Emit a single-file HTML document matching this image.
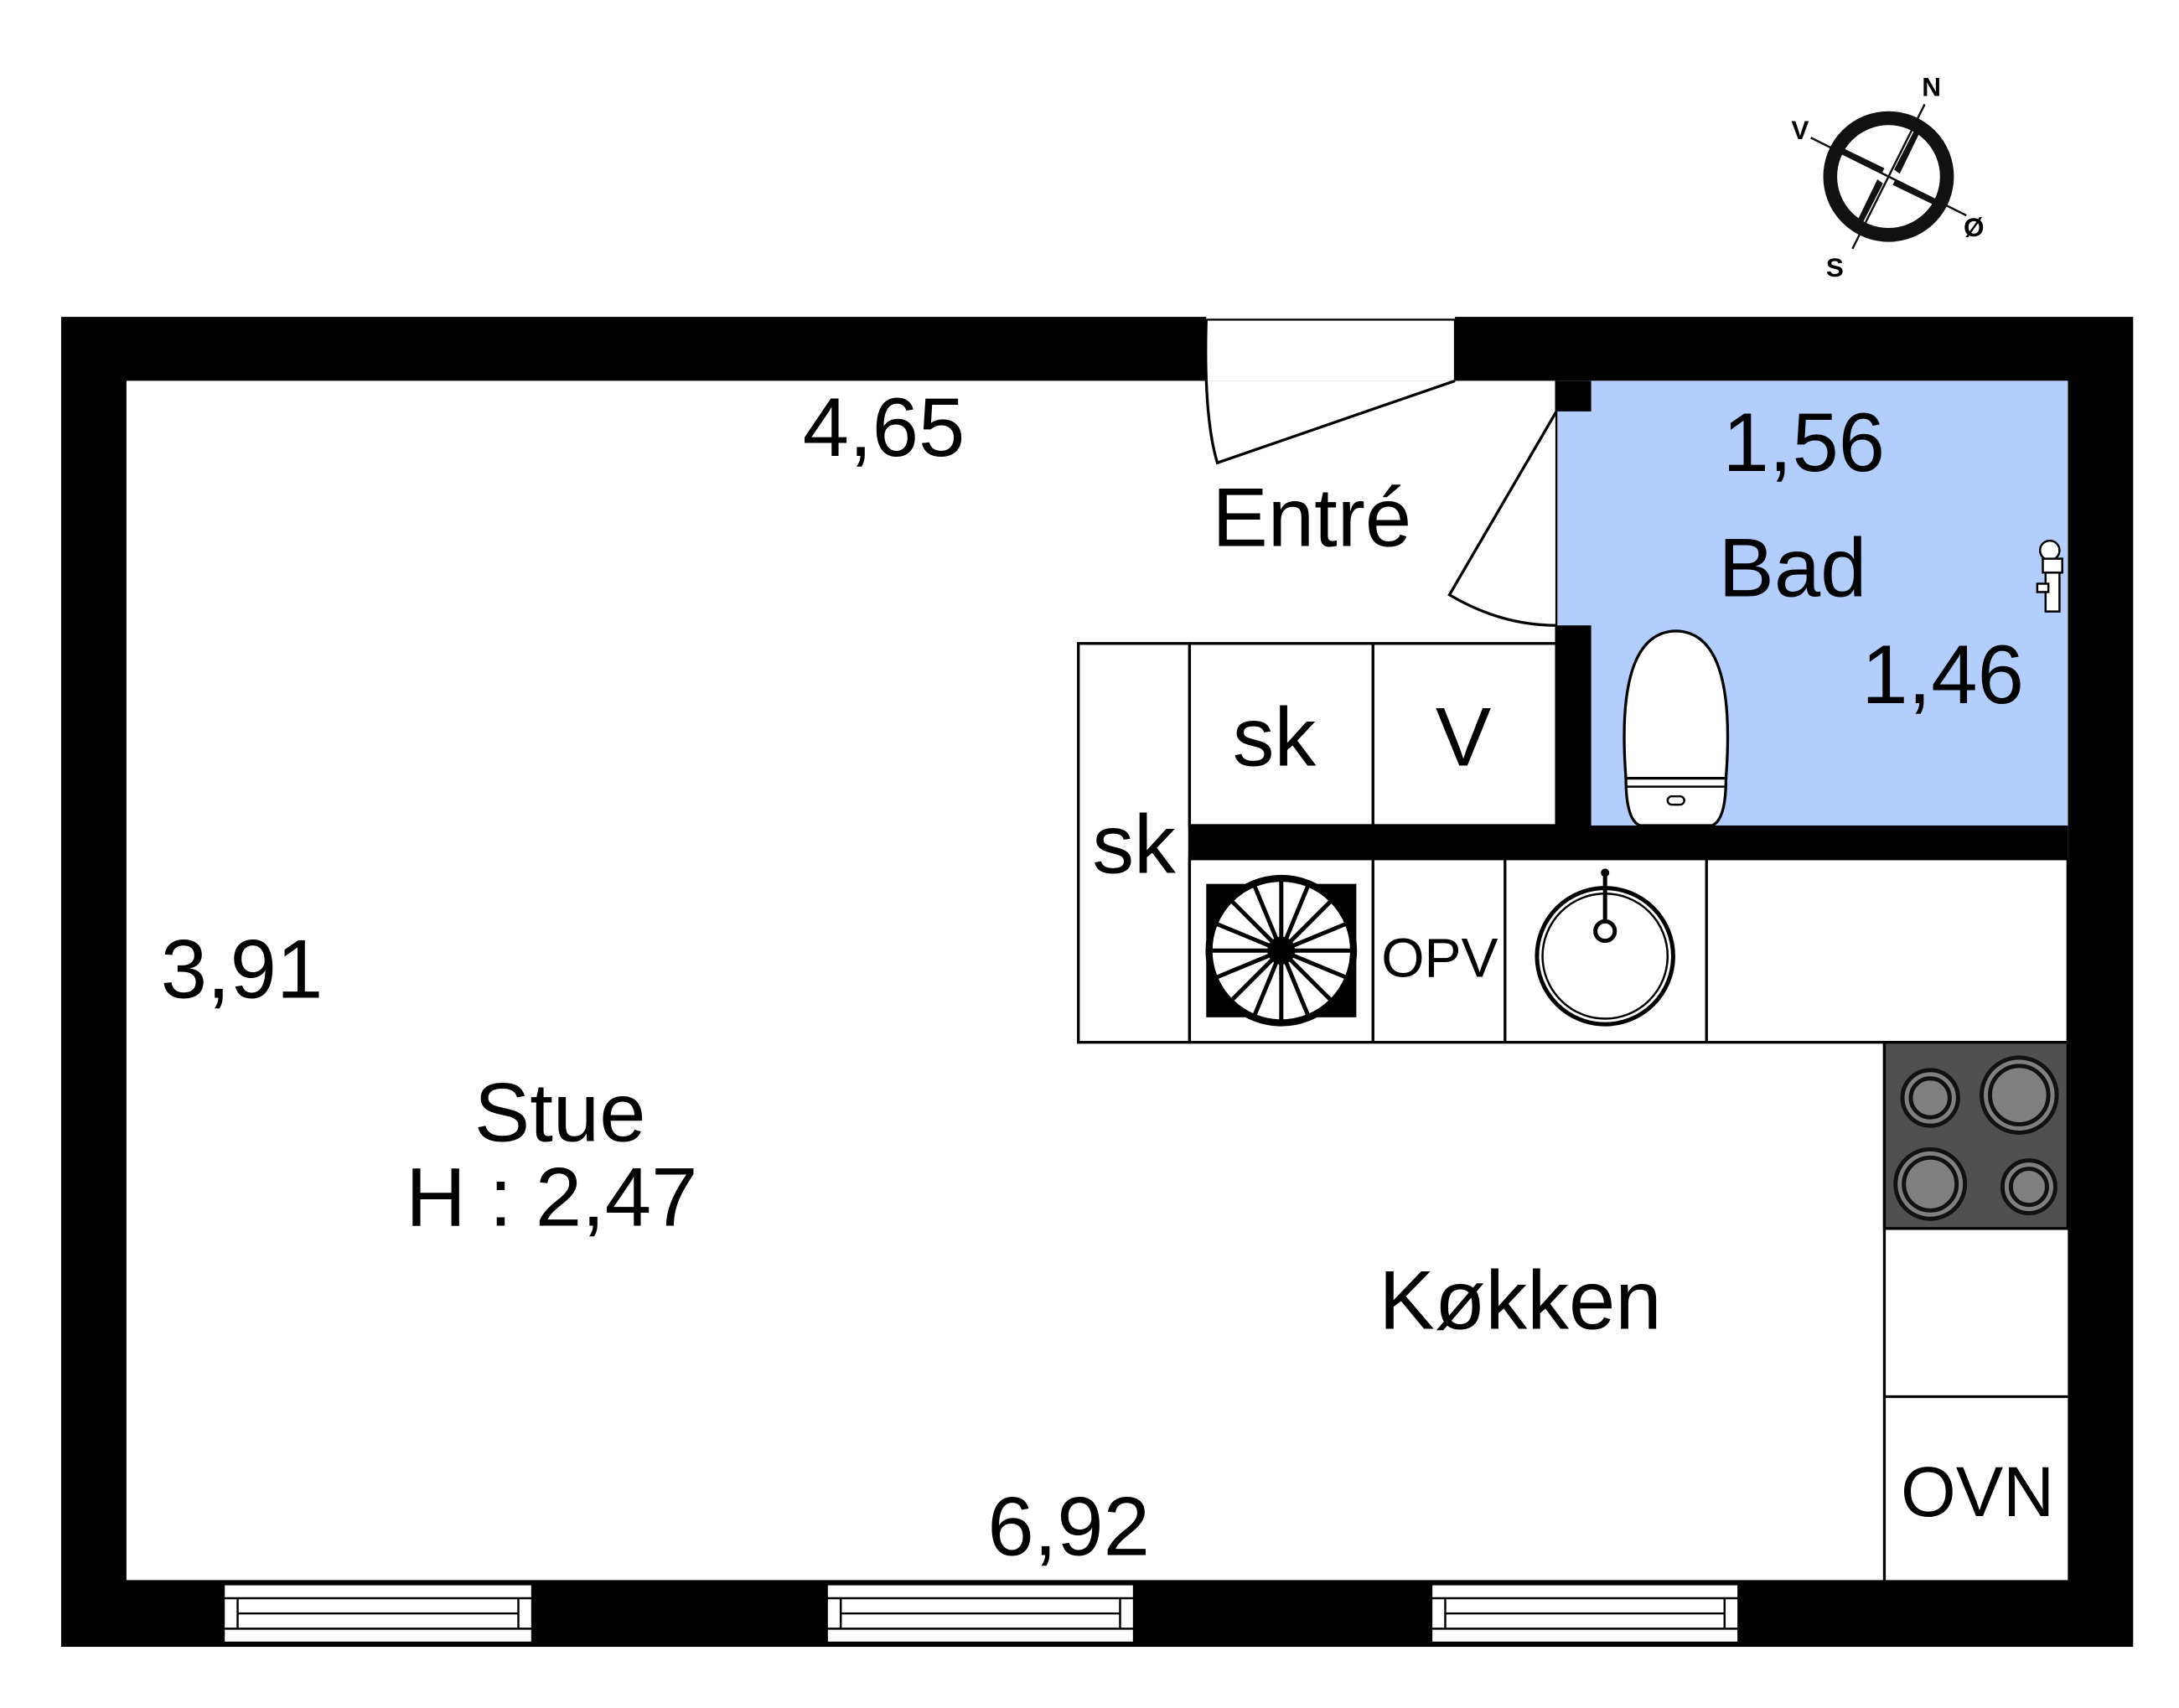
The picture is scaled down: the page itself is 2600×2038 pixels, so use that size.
<!DOCTYPE html>
<html><head><meta charset="utf-8"><style>html,body{margin:0;padding:0;background:#fff}svg{display:block}text{font-family:"Liberation Sans",sans-serif;fill:#000}</style></head><body>
<svg width="2600" height="2038" viewBox="0 0 1568 1229" xmlns="http://www.w3.org/2000/svg">
<rect width="1568" height="1229" fill="#fff"/>
<rect x="44" y="228" width="1491" height="957" fill="#000"/>
<rect x="91" y="274" width="1397" height="863" fill="#fff"/>
<rect x="1121" y="274" width="367" height="321" fill="#b3cdfc"/>
<rect x="1119" y="274" width="26" height="22" fill="#000"/>
<rect x="1119" y="450" width="26" height="145" fill="#000"/>
<line x1="1120" y1="296" x2="1120" y2="450" stroke="#000" stroke-width="1.5"/>
<rect x="856" y="594" width="632" height="24" fill="#000"/>
<rect x="868" y="226" width="179" height="48" fill="#fff"/>
<path d="M868,230 L1047,230 L1047,274" fill="none" stroke="#000" stroke-width="1.5"/>
<path d="M1047,274 L876,333 Q866,300 868,230" fill="none" stroke="#000" stroke-width="2"/>
<path d="M1120,296 L1043,428 Q1080,450 1120,450" fill="none" stroke="#000" stroke-width="2"/>
<g fill="none" stroke="#000" stroke-width="2">
<rect x="856" y="463" width="264" height="131"/>
<line x1="988" y1="463" x2="988" y2="594"/>
<rect x="776" y="463" width="80" height="287"/>
<rect x="856" y="618" width="632" height="132"/>
<line x1="988" y1="618" x2="988" y2="750"/>
<line x1="1083" y1="618" x2="1083" y2="750"/>
<line x1="1228" y1="618" x2="1228" y2="750"/>
<line x1="1356" y1="750" x2="1356" y2="1137"/>
<line x1="1356" y1="884" x2="1488" y2="884"/>
<line x1="1356" y1="1005" x2="1488" y2="1005"/>
</g>
<g transform="translate(922,684)">
<rect x="-54" y="-48" width="108" height="96" fill="#000"/>
<circle r="52" fill="#fff" stroke="#000" stroke-width="5"/>
<g stroke="#000" stroke-width="3">
<line x1="-50" y1="0" x2="50" y2="0"/><line x1="0" y1="-50" x2="0" y2="50"/>
<line x1="-35" y1="-35" x2="35" y2="35"/><line x1="-35" y1="35" x2="35" y2="-35"/>
<line x1="-46" y1="-19" x2="46" y2="19"/><line x1="-46" y1="19" x2="46" y2="-19"/>
<line x1="-19" y1="-46" x2="19" y2="46"/><line x1="-19" y1="46" x2="19" y2="-46"/>
</g><circle r="10" fill="#000"/></g>
<circle cx="1155" cy="688" r="49" fill="none" stroke="#000" stroke-width="3"/>
<circle cx="1155" cy="688" r="45" fill="none" stroke="#000" stroke-width="1.5"/>
<line x1="1155" y1="630" x2="1155" y2="668" stroke="#000" stroke-width="3"/>
<circle cx="1155" cy="628" r="3" fill="#000"/>
<circle cx="1155" cy="670" r="7" fill="#fff" stroke="#000" stroke-width="3"/>
<rect x="1356" y="750" width="132" height="134" fill="#505050" stroke="#000" stroke-width="2"/>
<g fill="#808080" stroke="#111" stroke-width="3">
<circle cx="1389" cy="790" r="20"/><circle cx="1389" cy="790" r="14"/>
<circle cx="1453" cy="788" r="27"/><circle cx="1453" cy="788" r="21"/>
<circle cx="1389" cy="852" r="25"/><circle cx="1389" cy="852" r="19"/>
<circle cx="1460" cy="854" r="19"/><circle cx="1460" cy="854" r="13"/>
</g>
<path d="M1170,560 Q1162,455 1206,454 Q1250,455 1242,560 Z" fill="#fff" stroke="#000" stroke-width="2"/>
<path d="M1170,560 L1242,560 Q1242,590 1232,594 L1180,594 Q1170,590 1170,560 Z" fill="#fff" stroke="#000" stroke-width="2"/>
<line x1="1170" y1="566" x2="1242" y2="566" stroke="#000" stroke-width="1.5"/>
<rect x="1200" y="573" width="12" height="6" rx="3" fill="#fff" stroke="#000" stroke-width="1.5"/>
<g fill="#fff" stroke="#000" stroke-width="1.5"><circle cx="1475" cy="396" r="7"/><rect x="1470" y="402" width="14" height="10"/><rect x="1472" y="412" width="10" height="28"/><rect x="1466" y="420" width="8" height="6"/></g>
<g fill="#fff" stroke="#000" stroke-width="1.5">
<g transform="translate(161,0)"><rect x="0" y="1140" width="222" height="42"/><line x1="0" y1="1150" x2="222" y2="1150"/><line x1="0" y1="1172" x2="222" y2="1172"/><line x1="10" y1="1161" x2="212" y2="1161"/><line x1="10" y1="1150" x2="10" y2="1172"/><line x1="212" y1="1150" x2="212" y2="1172"/></g>
<g transform="translate(595,0)"><rect x="0" y="1140" width="221" height="42"/><line x1="0" y1="1150" x2="221" y2="1150"/><line x1="0" y1="1172" x2="221" y2="1172"/><line x1="10" y1="1161" x2="211" y2="1161"/><line x1="10" y1="1150" x2="10" y2="1172"/><line x1="211" y1="1150" x2="211" y2="1172"/></g>
<g transform="translate(1030,0)"><rect x="0" y="1140" width="221" height="42"/><line x1="0" y1="1150" x2="221" y2="1150"/><line x1="0" y1="1172" x2="221" y2="1172"/><line x1="10" y1="1161" x2="211" y2="1161"/><line x1="10" y1="1150" x2="10" y2="1172"/><line x1="211" y1="1150" x2="211" y2="1172"/></g>
</g>
<g transform="translate(1359,127)">
<circle r="42" fill="none" stroke="#111" stroke-width="10"/>
<g stroke="#111" stroke-width="1.5"><line x1="26" y1="-52" x2="-26" y2="52"/><line x1="-56" y1="-28" x2="56" y2="28"/></g>
<g fill="#111"><path d="M4,-5 L22,-40 L25,-37 L8,-2Z"/><path d="M-4,5 L-22,40 L-25,37 L-8,2Z"/><path d="M-5,-2 L-38,-18 L-36,-22 L-3,-6Z"/><path d="M5,2 L38,18 L36,22 L3,6Z"/></g>
</g>
<g font-weight="bold" font-size="19"><text x="1383" y="69">N</text><text x="1289" y="100">V</text><text x="1413" y="170">Ø</text><text x="1314" y="199">S</text></g>
<g font-size="60" text-anchor="middle">
<text x="636" y="328">4,65</text>
<text x="944" y="393">Entré</text>
<text x="1298" y="339">1,56</text>
<text x="1290" y="429">Bad</text>
<text x="1398" y="506">1,46</text>
<text x="917" y="551">sk</text>
<text x="1053" y="551">V</text>
<text x="816" y="628">sk</text>
<text x="174" y="718">3,91</text>
<text x="403" y="821">Stue</text>
<text x="397" y="882">H : 2,47</text>
<text x="1094" y="956">Køkken</text>
<text x="769" y="1119">6,92</text>
</g>
<text x="1036" y="703" font-size="40" text-anchor="middle" textLength="84" lengthAdjust="spacingAndGlyphs">OPV</text>
<text x="1423" y="1091" font-size="51" text-anchor="middle">OVN</text>
</svg>
</body></html>
